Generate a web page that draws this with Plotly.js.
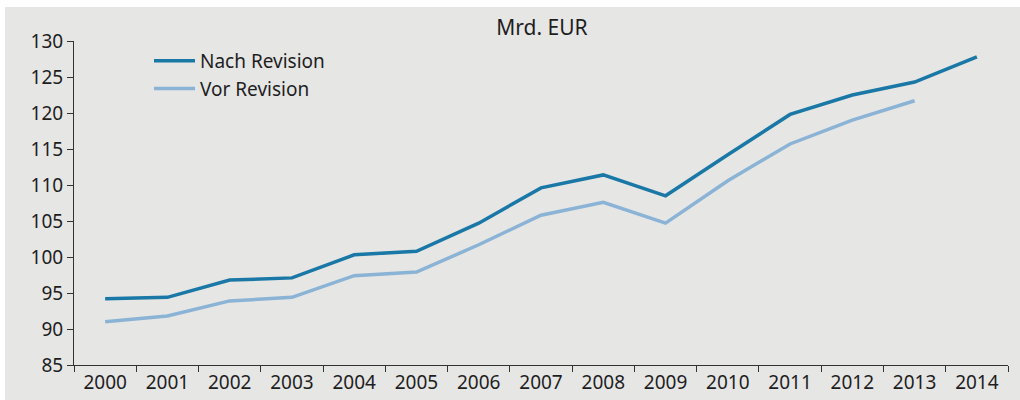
<!DOCTYPE html>
<html>
<head>
<meta charset="utf-8">
<script src="https://cdn.plot.ly/plotly-3.0.1.min.js"></script>
<style>
html,body{margin:0;padding:0;background:#ffffff;}
#chart{position:absolute;left:5px;top:7px;width:1015px;height:393px;}
</style>
</head>
<body>
<div id="chart"></div>
<script>
const years = ["2000","2001","2002","2003","2004","2005","2006","2007","2008","2009","2010","2011","2012","2013","2014"];
const nachRevision = [94.2, 94.4, 96.8, 97.1, 100.3, 100.8, 104.7, 109.6, 111.4, 108.5, 114.2, 119.8, 122.5, 124.3, 127.8];
const vorRevision = [91.0, 91.8, 93.9, 94.4, 97.4, 97.9, 101.7, 105.8, 107.6, 104.7, 110.6, 115.7, 119.0, 121.7];
const yTicks = [85, 90, 95, 100, 105, 110, 115, 120, 125, 130];

const FONT = '"Noto Sans", "Open Sans", sans-serif';
const data = [
  {x: years, y: nachRevision, type: 'scatter', mode: 'lines', name: 'Nach Revision',
   line: {color: '#1a78a6', width: 3.5}},
  {x: years.slice(0, vorRevision.length), y: vorRevision, type: 'scatter', mode: 'lines', name: 'Vor Revision',
   line: {color: '#8ab3d5', width: 3.5}}
];
const layout = {
  width: 1015, height: 393,
  paper_bgcolor: '#e6e6e5', plot_bgcolor: '#e6e6e5',
  margin: {l: 69, r: 12, t: 34, b: 35},
  font: {family: FONT, size: 19, color: '#1e1e1e'},
  title: {text: 'Mrd. EUR', x: 0.529, xanchor: 'center', xref: 'container', y: 1 - 21/393, yanchor: 'middle', yref: 'container',
          font: {family: FONT, size: 21, color: '#1e1e1e'}},
  showlegend: true,
  legend: {x: 0.0803, y: 0.997, xanchor: 'left', yanchor: 'top', bgcolor: 'rgba(0,0,0,0)',
           font: {family: FONT, size: 19, color: '#1e1e1e'}, itemwidth: 41, tracegroupgap: 0},
  xaxis: {type: 'category', showgrid: false, zeroline: false, showline: true, linecolor: '#333333', linewidth: 1,
          ticks: 'outside', ticklen: 6, tickcolor: '#333333', tickson: 'boundaries', range: [-0.5, 14.5],
          tickfont: {family: FONT, size: 19, color: '#1e1e1e'}, fixedrange: true},
  yaxis: {range: [85, 130], tickvals: yTicks, showgrid: false, zeroline: false, showline: true, linecolor: '#333333',
          linewidth: 1, ticks: 'outside', ticklen: 6, tickcolor: '#333333',
          tickfont: {family: FONT, size: 19, color: '#1e1e1e'}, fixedrange: true}
};
Plotly.newPlot('chart', data, layout, {displayModeBar: false, staticPlot: true});
</script>
</body>
</html>
